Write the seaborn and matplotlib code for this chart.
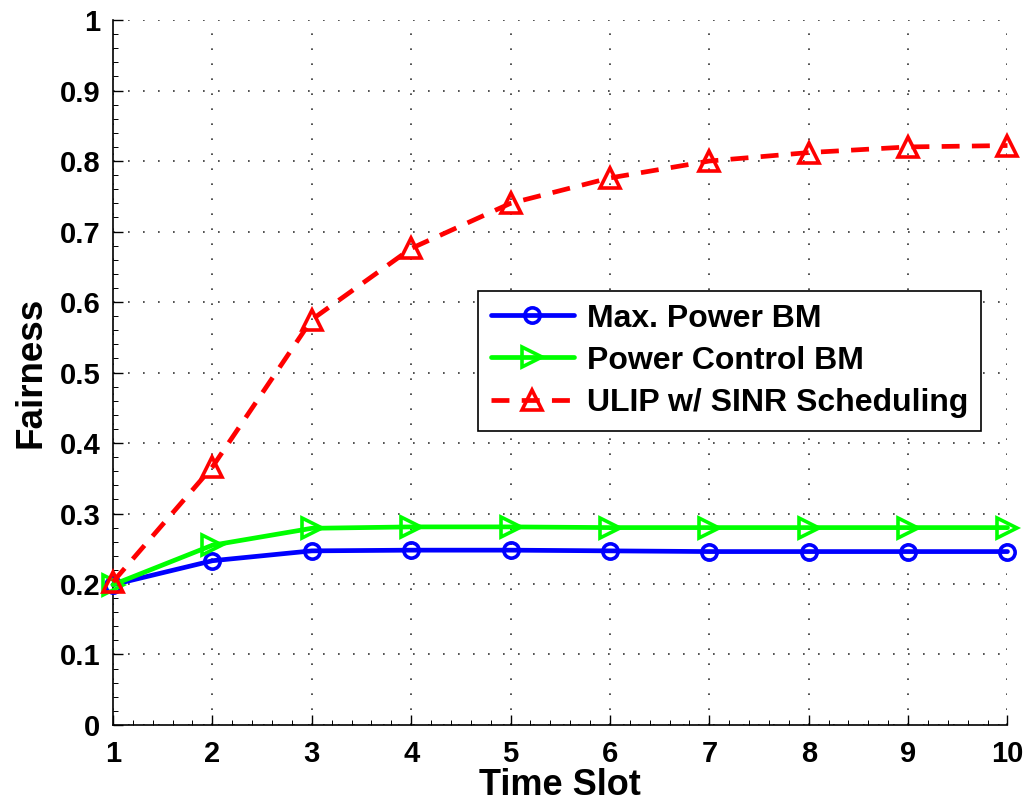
import numpy as np
import pandas as pd
import seaborn as sns
import matplotlib.pyplot as plt
from matplotlib.ticker import AutoMinorLocator

time_slot = [1, 2, 3, 4, 5, 6, 7, 8, 9, 10]
max_power_bm = [0.199, 0.233, 0.247, 0.248, 0.248, 0.247, 0.246, 0.246, 0.246, 0.246]
power_control_bm = [0.199, 0.255, 0.279, 0.281, 0.281, 0.280, 0.280, 0.280, 0.280, 0.280]
ulip_sinr = [0.203, 0.366, 0.575, 0.676, 0.740, 0.776, 0.800, 0.812, 0.820, 0.822]

series_names = ["Max. Power BM", "Power Control BM", "ULIP w/ SINR Scheduling"]
y_ticks = [0, 0.1, 0.2, 0.3, 0.4, 0.5, 0.6, 0.7, 0.8, 0.9, 1]
y_tick_labels = ["0", "0.1", "0.2", "0.3", "0.4", "0.5", "0.6", "0.7", "0.8", "0.9", "1"]


def main():
    sns.set_style("white")
    plt.rcParams['font.family'] = ['Liberation Sans', 'DejaVu Sans']
    plt.rcParams['font.weight'] = 'bold'
    plt.rcParams['text.color'] = 'black'
    plt.rcParams['axes.labelcolor'] = 'black'
    plt.rcParams['xtick.color'] = 'black'
    plt.rcParams['ytick.color'] = 'black'

    fig = plt.figure(figsize=(10.27, 8.05), dpi=100)
    ax = fig.add_axes([0.110, 0.0994, 0.871, 0.8757])

    # matlab-ish styles: open markers, red one dashed
    styles = [
        dict(color="#0000ff", marker="o", linestyle="-", ms=11),
        dict(color="#00ff00", marker=">", linestyle="-", ms=14),
        dict(color="#ff0000", marker="^", linestyle=(0, (3.8, 2.6)), ms=14),
    ]
    for name, vals, st in zip(series_names, [max_power_bm, power_control_bm, ulip_sinr], styles):
        df = pd.DataFrame({"Time Slot": time_slot, "Fairness": vals})
        sns.lineplot(data=df, x="Time Slot", y="Fairness", ax=ax, label=name,
                     color=st["color"], marker=st["marker"], linestyle=st["linestyle"],
                     linewidth=3.4, markersize=st["ms"], markerfacecolor="none",
                     markeredgecolor=st["color"], markeredgewidth=2.6, clip_on=False,
                     zorder=3)

    ax.set_xlim(1, 10)
    ax.set_ylim(0, 1)
    ax.set_xticks(time_slot)
    ax.set_xticklabels([str(t) for t in time_slot])
    ax.set_yticks(y_ticks)
    ax.set_yticklabels(y_tick_labels)
    ax.xaxis.set_minor_locator(AutoMinorLocator(5))
    ax.yaxis.set_minor_locator(AutoMinorLocator(5))
    ax.tick_params(axis="both", which="major", direction="in", labelsize=21, length=7,
                   width=1, color="black", labelcolor="black")
    ax.tick_params(axis="x", which="major", pad=11)
    ax.tick_params(axis="y", which="major", pad=9)
    ax.tick_params(axis="both", which="minor", direction="in", length=3.5, width=0.7,
                   color="black")
    ax.tick_params(left=True, bottom=True, which="both")
    for lab in ax.get_xticklabels() + ax.get_yticklabels():
        lab.set_fontweight("bold")

    ax.grid(True, which="major", color="#333333", linestyle=(0, (1, 8)), linewidth=1.2)
    ax.spines["top"].set_visible(False)
    ax.spines["right"].set_visible(False)
    for sp in ["left", "bottom"]:
        ax.spines[sp].set_color("black")
        ax.spines[sp].set_linewidth(1.2)

    ax.set_xlabel("Time Slot", fontsize=26, fontweight="bold", labelpad=0, color="black")
    ax.set_ylabel("Fairness", fontsize=26.5, fontweight="bold", labelpad=8, color="black")

    leg = ax.legend(loc="upper left", bbox_to_anchor=(0.408, 0.616), fontsize=23,
                    frameon=True, fancybox=False, edgecolor="black", handlelength=2.6,
                    handletextpad=0.4, borderpad=0.4, labelspacing=0.38, borderaxespad=0,
                    framealpha=1)
    leg.get_frame().set_linewidth(1.2)
    for t in leg.get_texts():
        t.set_fontweight("bold")
        t.set_color("black")

    plt.savefig("out.png", dpi=100)


if __name__ == "__main__":
    main()
